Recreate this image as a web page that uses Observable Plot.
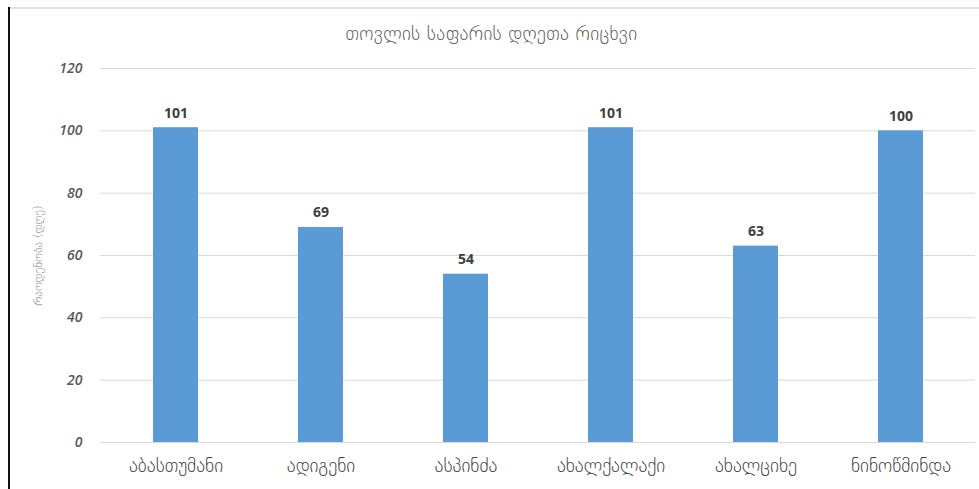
<!DOCTYPE html>
<html>
<head>
<meta charset="utf-8">
<script src="https://cdn.jsdelivr.net/npm/d3@7"></script>
<script src="https://cdn.jsdelivr.net/npm/@observablehq/plot@0.6"></script>
<style>
  html, body { margin: 0; padding: 0; background: #fff; }
  #wrap { position: relative; width: 979px; height: 489px; overflow: hidden; font-family: "DejaVu Sans", sans-serif; }
  #frameTop { position: absolute; left: 9px; top: 7px; width: 970px; height: 2px; background: #e3e3e3; }
  #frameLeft { position: absolute; left: 8px; top: 7px; width: 2px; height: 482px; background: #111; }
  #title { height: 50px; box-sizing: border-box; padding-top: 22px; text-align: center; font-size: 19px; line-height: 22px; color: #595959; padding-left: 4px; letter-spacing: 0.3px; font-weight: 300; }
  #chart svg { display: block; }
</style>
</head>
<body>
<div id="wrap">
  <div id="title">თოვლის საფარის დღეთა რიცხვი</div>
  <div id="chart"></div>
  <div id="frameTop"></div>
  <div id="frameLeft"></div>
</div>
<script>
const stations = ["აბასთუმანი", "ადიგენი", "ასპინძა", "ახალქალაქი", "ახალციხე", "ნინოწმინდა"];
const snowDays = [101, 69, 54, 101, 63, 100];
const yTicks = [0, 20, 40, 60, 80, 100, 120];
const yLabel = "რაოდენობა (დღე)";

const data = stations.map((s, i) => ({station: s, days: snowDays[i]}));

const chart = Plot.plot({
  width: 979,
  height: 439,
  marginLeft: 100,
  marginRight: 4,
  marginTop: 18,
  marginBottom: 47,
  style: {fontFamily: "DejaVu Sans, sans-serif", background: "transparent"},
  x: {domain: stations, paddingInner: 0.69, paddingOuter: 0.354, label: null},
  y: {domain: [0, 120], label: null},
  marks: [
    Plot.gridY(yTicks, {stroke: "#d9d9d9", strokeOpacity: 1, strokeWidth: 1}),
    Plot.axisY(yTicks, {
      tickSize: 0, tickPadding: 18, label: null,
      fontSize: 14, fill: "#595959",
      fontStyle: "italic", fontFamily: "Open Sans, sans-serif", fontWeight: 600
    }),
    Plot.axisX({
      tickSize: 0, tickPadding: 16, label: null,
      fontSize: 19, fill: "#404040", fontFamily: "DejaVu Sans, sans-serif",
      fontWeight: 300, letterSpacing: 0.4
    }),
    Plot.barY(data, {x: "station", y: "days", fill: "#5b9bd5"}),
    Plot.text(data, {
      x: "station", y: "days", text: d => String(d.days),
      dy: -10, lineAnchor: "bottom",
      fontSize: 14, fontWeight: "bold", fill: "#404040",
      fontFamily: "Open Sans, sans-serif"
    }),
    Plot.text([yLabel], {
      frameAnchor: "left", dx: -62, dy: 0, rotate: -90, textAnchor: "middle",
      text: d => d, fontSize: 12, fill: "#8c8c8c",
      fontFamily: "DejaVu Sans, sans-serif", fontWeight: 300
    })
  ]
});
document.getElementById("chart").appendChild(chart);
</script>
</body>
</html>
